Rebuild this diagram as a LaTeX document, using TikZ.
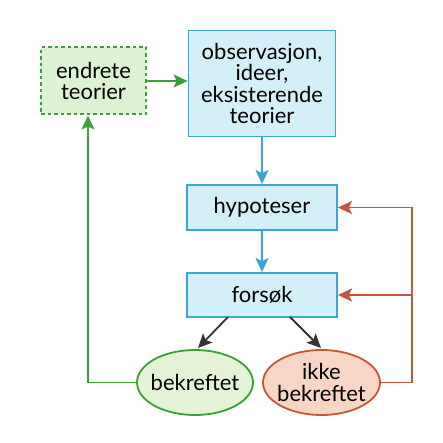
\documentclass[tikz,border=0pt]{standalone}
\usepackage{fontspec}
\setmainfont{Lato}
\usetikzlibrary{arrows.meta,shapes.geometric}
\definecolor{boxblue}{HTML}{D3EFF8}
\definecolor{lineblue}{HTML}{3DA6D4}
\definecolor{boxgreen}{HTML}{DDF1D3}
\definecolor{linegreen}{HTML}{3C9F38}
\definecolor{ellgreen}{HTML}{E4F3D6}
\definecolor{ellred}{HTML}{F7D6C6}
\definecolor{linered}{HTML}{C75538}
\definecolor{darkarrow}{HTML}{333333}
\tikzset{
  txt/.style={align=center, inner sep=0pt, font=\fontsize{22}{21.5}\selectfont},
  bluebox/.style={txt, draw=lineblue, line width=1.8pt, fill=boxblue},
  greenbox/.style={txt, draw=linegreen, line width=2pt, dash pattern=on 3.5pt off 3pt, fill=boxgreen},
  ellnode/.style={ellipse, line width=1.8pt, inner sep=0pt},
  tip/.style={-{Stealth[length=14pt,width=13pt,inset=3pt]}},
}
\begin{document}
\begin{tikzpicture}[x=1pt,y=-1pt]
\useasboundingbox (0,0) rectangle (443,443);
\node[greenbox, minimum width=105pt, minimum height=67pt] (endr) at (93.5,81) {endrete\\teorier};
\node[bluebox, minimum width=147pt, minimum height=106pt] (obs) at (262,83.5) {observasjon,\\ideer,\\eksisterende\\teorier};
\node[bluebox, minimum width=150pt, minimum height=45pt] (hyp) at (262,207.5) {hypoteser};
\node[bluebox, minimum width=150pt, minimum height=44pt] (fors) at (262,295) {forsøk};
\node[ellnode, draw=linegreen, fill=ellgreen, minimum width=116pt, minimum height=65pt,
  label={[txt]center:bekreftet}] (bekr) at (195,382.5) {};
\node[ellnode, draw=linered, fill=ellred, minimum width=117pt, minimum height=65pt,
  label={[txt]center:ikke\\bekreftet}] (ikke) at (321.5,382.5) {};
\coordinate (rc) at (412,382.5);
\coordinate (gc) at (88,382.5);
% blue arrows
\draw[tip, lineblue, line width=1.8pt] (obs.south) -- (hyp.north);
\draw[tip, lineblue, line width=1.8pt] (hyp.south) -- (fors.north);
% green arrows
\draw[tip, linegreen, line width=1.8pt] (endr.east) -- (obs.west |- endr.east);
\draw[tip, linegreen, line width=1.8pt] (bekr.west) -- (gc) -- (gc |- endr.south);
% red arrows
\draw[linered, line width=1.8pt] (ikke.east) -- (rc) -- (rc |- hyp.east);
\draw[tip, linered, line width=1.8pt] (rc |- hyp.east) -- (hyp.east);
\draw[tip, linered, line width=1.8pt] (rc |- fors.east) -- (fors.east);
% black arrows
\draw[tip, darkarrow, line width=1.8pt] (228,317) -- (198,348);
\draw[tip, darkarrow, line width=1.8pt] (290,317) -- (321,348);
\end{tikzpicture}
\end{document}
